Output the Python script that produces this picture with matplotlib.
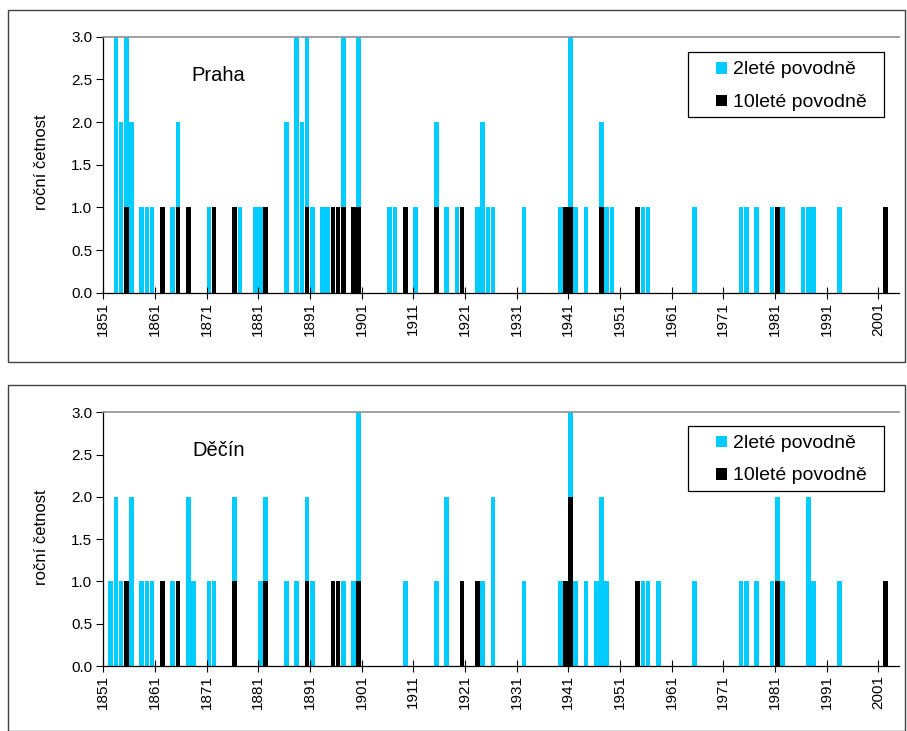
import numpy as np
import matplotlib
matplotlib.use("Agg")
import matplotlib.pyplot as plt
from matplotlib.patches import Rectangle

plt.rcParams['font.family'] = ['Liberation Sans', 'DejaVu Sans']

# roky a četnosti povodní - Praha
praha_roky_2 = [1853, 1854, 1855, 1856, 1858, 1859, 1860, 1862, 1864, 1865, 1867,
                1871, 1872, 1876, 1877, 1880, 1881, 1882, 1886, 1888, 1889, 1890,
                1891, 1893, 1894, 1895, 1896, 1897, 1899, 1900, 1906, 1907, 1909,
                1911, 1915, 1917, 1919, 1920, 1923, 1924, 1925, 1926, 1932, 1939,
                1940, 1941, 1942, 1944, 1947, 1948, 1949, 1954, 1955, 1956, 1965,
                1974, 1975, 1977, 1980, 1981, 1982, 1986, 1987, 1988, 1993, 2002]
praha_cetnost_2 = [3, 2, 3, 2, 1, 1, 1, 1, 1, 2, 1,
                   1, 1, 1, 1, 1, 1, 1, 2, 3, 2, 3,
                   1, 1, 1, 1, 1, 3, 1, 3, 1, 1, 1,
                   1, 2, 1, 1, 1, 1, 2, 1, 1, 1, 1,
                   1, 3, 1, 1, 2, 1, 1, 1, 1, 1, 1,
                   1, 1, 1, 1, 1, 1, 1, 1, 1, 1, 1]
praha_roky_10 = [1855, 1862, 1865, 1867, 1872, 1876, 1882, 1890, 1895, 1896, 1897,
                 1899, 1900, 1909, 1915, 1920, 1940, 1941, 1947, 1954, 1981, 2002]
praha_cetnost_10 = [1] * len(praha_roky_10)

# roky a četnosti povodní - Děčín
decin_roky_2 = [1852, 1853, 1854, 1855, 1856, 1858, 1859, 1860, 1862, 1864, 1865,
                1867, 1868, 1871, 1872, 1876, 1881, 1882, 1886, 1888, 1890, 1891,
                1895, 1896, 1897, 1899, 1900, 1909, 1915, 1917, 1920, 1923, 1924,
                1926, 1932, 1939, 1940, 1941, 1942, 1944, 1946, 1947, 1948, 1954,
                1955, 1956, 1958, 1965, 1974, 1975, 1977, 1980, 1981, 1982, 1987,
                1988, 1993, 2002]
decin_cetnost_2 = [1, 2, 1, 1, 2, 1, 1, 1, 1, 1, 1,
                   2, 1, 1, 1, 2, 1, 2, 1, 1, 2, 1,
                   1, 1, 1, 1, 3, 1, 1, 2, 1, 1, 1,
                   2, 1, 1, 1, 3, 1, 1, 1, 2, 1, 1,
                   1, 1, 1, 1, 1, 1, 1, 1, 2, 1, 2,
                   1, 1, 1]
decin_roky_10 = [1855, 1862, 1865, 1876, 1882, 1890, 1895, 1896, 1900, 1920, 1923,
                 1940, 1941, 1954, 1981, 2002]
decin_cetnost_10 = [1, 1, 1, 1, 1, 1, 1, 1, 1, 1, 1,
                    1, 2, 1, 1, 1]

tick_roky = list(range(1851, 2002, 10))
popisky = ['2leté povodně', '10leté povodně']
cyan = '#00CCFF'

W, H = 907, 731
fig = plt.figure(figsize=(W / 100, H / 100), dpi=100)


def px_rect(x0, y0, x1, y1, **kw):
    # obdélník zadaný v pixelech (počátek vlevo nahoře)
    return Rectangle((x0 / W, 1 - y1 / H), (x1 - x0) / W, (y1 - y0) / H,
                     transform=fig.transFigure, **kw)


# rámečky kolem obou grafů
fig.patches.append(px_rect(8, 10, 905, 362, fill=False, edgecolor='#404040', linewidth=1.0))
fig.patches.append(px_rect(8, 385, 905, 731, fill=False, edgecolor='#404040', linewidth=1.0))


def legenda(box_top):
    # ručně kreslená legenda vpravo nahoře
    fig.patches.append(px_rect(688, box_top, 884, box_top + 65, facecolor='white',
                               edgecolor='black', linewidth=0.9, zorder=5))
    for i, (barva, text) in enumerate(zip([cyan, 'black'], popisky)):
        yc = box_top + 15.5 + i * 32.5
        fig.patches.append(px_rect(715.7, yc - 5.8, 727.3, yc + 5.8, facecolor=barva,
                                   edgecolor='none', zorder=6))
        fig.text(733 / W, 1 - yc / H, text, fontsize=14, ha='left', va='center_baseline',
                 zorder=7)


def graf(ax, roky2, cet2, roky10, cet10, nazev):
    ax.bar(roky2, cet2, width=0.9, align='edge', color=cyan, linewidth=0)
    ax.bar(roky10, cet10, width=0.9, align='edge', color='black', linewidth=0)
    ax.set_xlim(1851, 2005)
    ax.set_ylim(0, 3)
    ax.set_yticks(np.arange(0, 3.01, 0.5))
    ax.set_yticklabels(['%.1f' % v for v in np.arange(0, 3.01, 0.5)], fontsize=11)
    ax.set_xticks(tick_roky)
    ax.set_xticklabels([str(r) for r in tick_roky], rotation=90, fontsize=11)
    ax.tick_params(axis='y', direction='out', length=5, width=0.8, pad=3)
    ax.tick_params(axis='x', direction='inout', length=9, width=0.8, pad=2)
    ax.spines['right'].set_visible(False)
    ax.spines['top'].set_color('#909090')
    ax.spines['top'].set_linewidth(1.2)
    for s in ['left', 'bottom']:
        ax.spines[s].set_linewidth(0.9)
    ax.text(0.145, 0.85, nazev, transform=ax.transAxes, fontsize=14.5,
            ha='center', va='center')


ax1 = fig.add_axes([103.3 / W, 1 - 292.7 / H, 795.7 / W, 256 / H])
graf(ax1, praha_roky_2, praha_cetnost_2, praha_roky_10, praha_cetnost_10, 'Praha')
legenda(52.3)
fig.text(42 / W, 1 - 162 / H, 'roční četnost', rotation=90, fontsize=12,
         ha='center', va='center')

ax2 = fig.add_axes([103.3 / W, 1 - 666 / H, 795.7 / W, 253.7 / H])
graf(ax2, decin_roky_2, decin_cetnost_2, decin_roky_10, decin_cetnost_10, 'Děčín')
legenda(426)
fig.text(42 / W, 1 - 537 / H, 'roční četnost', rotation=90, fontsize=12,
         ha='center', va='center')

fig.savefig('out.png', dpi=100)
